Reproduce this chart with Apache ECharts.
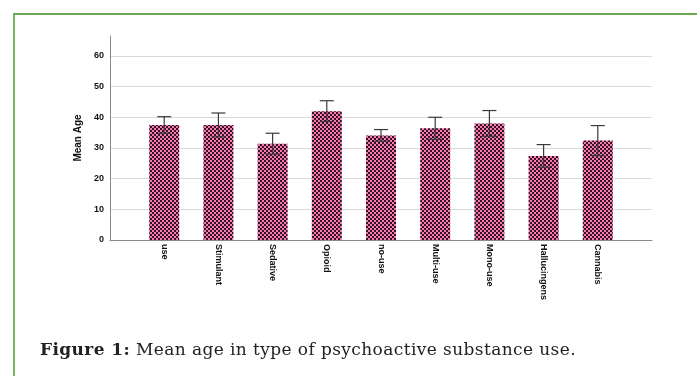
<!DOCTYPE html>
<html>
<head>
<meta charset="utf-8">
<script src="https://cdn.jsdelivr.net/npm/echarts@6/dist/echarts.min.js"></script>
<style>
* { margin: 0; padding: 0; }
body { width: 697px; height: 376px; background: #fff; position: relative; overflow: hidden; }
#frame { position: absolute; left: 13px; top: 13px; width: 700px; height: 400px;
  border-left: 2px solid #78b35e; border-top: 2px solid #6aa84f; }
#main { position: absolute; left: 0; top: 0; width: 697px; height: 376px; }
#caption { position: absolute; left: 40px; top: 339px; font-family: "DejaVu Serif", "Liberation Serif", serif;
  font-size: 17px; letter-spacing: 0.4px; color: #222; white-space: nowrap; }
#caption span { font-weight: normal; }
</style>
</head>
<body>
<div id="frame"></div>
<div id="main"></div>
<div id="caption"><b>Figure 1:</b> <span>Mean age in type of psychoactive substance use.</span></div>
<script>
// 数据
var categories = ["use", "Stimulant", "Sedative", "Opioid", "no-use", "Multi-use", "Mono-use", "Hallucingens", "Cannabis"];
var meanAge = [37.5, 37.5, 31.4, 42.0, 34.1, 36.4, 38.0, 27.4, 32.4];
var errHalf = [2.7, 3.9, 3.4, 3.4, 1.9, 3.6, 4.2, 3.7, 4.9];
var yTicks = [0, 10, 20, 30, 40, 50, 60];

// 棋盘格填充
var pat = document.createElement("canvas");
pat.width = 4; pat.height = 4;
var ctx = pat.getContext("2d");
ctx.fillStyle = "#fa78b2";
ctx.fillRect(0, 0, 4, 4);
ctx.fillStyle = "#321422";
ctx.fillRect(0, 0, 2, 2);
ctx.fillRect(2, 2, 2, 2);

// 两端留空
var cats = [""].concat(categories).concat([""]);
var barData = [null].concat(meanAge).concat([null]);
var errData = [];
for (var i = 0; i < categories.length; i++) {
  errData.push([i + 1, meanAge[i] - errHalf[i], meanAge[i] + errHalf[i]]);
}

var chart = echarts.init(document.getElementById("main"));
chart.setOption({
  animation: false,
  grid: { left: 110, right: 45, top: 36, bottom: 136 },
  xAxis: {
    type: "category",
    data: cats,
    boundaryGap: false,
    axisLine: { lineStyle: { color: "#8a8a8a", width: 1 } },
    axisTick: { show: false },
    axisLabel: {
      rotate: -90, interval: 0, margin: 4,
      fontFamily: "Liberation Sans, Arial", fontWeight: "bold", fontSize: 9, color: "#111"
    }
  },
  yAxis: {
    type: "value",
    min: 0, max: 66.5, interval: 10,
    name: "Mean Age",
    nameLocation: "middle",
    nameGap: 24,
    nameTextStyle: { fontFamily: "Liberation Sans, Arial", fontWeight: "bold", fontSize: 10, color: "#111" },
    axisLine: { show: true, lineStyle: { color: "#8a8a8a", width: 1 } },
    axisTick: { show: false },
    axisLabel: {
      margin: 6, showMaxLabel: false,
      fontFamily: "Liberation Sans, Arial", fontWeight: "bold", fontSize: 9, color: "#111",
      formatter: function (v) { return yTicks.indexOf(v) >= 0 ? String(v) : ""; }
    },
    splitLine: { showMaxLine: false, lineStyle: { color: "#d9d9d9", width: 1 } }
  },
  series: [
    {
      type: "bar",
      data: barData,
      barWidth: 30,
      itemStyle: { color: { image: pat, repeat: "repeat" } }
    },
    {
      type: "custom",
      data: errData,
      z: 5,
      renderItem: function (params, api) {
        var x = api.value(0);
        var lo = api.coord([x, api.value(1)]);
        var hi = api.coord([x, api.value(2)]);
        var w = 7;
        var st = { stroke: "#3a3a3a", lineWidth: 1.2 };
        return {
          type: "group",
          children: [
            { type: "line", shape: { x1: hi[0], y1: hi[1], x2: lo[0], y2: lo[1] }, style: st },
            { type: "line", shape: { x1: hi[0] - w, y1: hi[1], x2: hi[0] + w, y2: hi[1] }, style: st },
            { type: "line", shape: { x1: lo[0] - w, y1: lo[1], x2: lo[0] + w, y2: lo[1] }, style: st }
          ]
        };
      }
    }
  ]
});
</script>
</body>
</html>
